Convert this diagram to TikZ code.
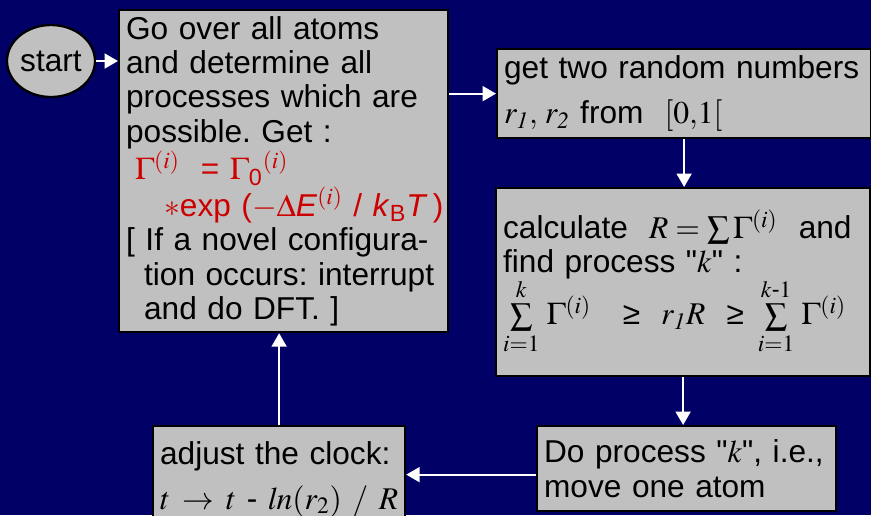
\documentclass[tikz,border=0pt]{standalone}
\usepackage{amsmath}
\usepackage{mathptmx}
\usepackage[no-math]{fontspec}
\setmainfont{Liberation Sans}[Ligatures=TeXOff]
\usetikzlibrary{shapes.geometric, arrows.meta, positioning, calc}
\definecolor{bgnavy}{RGB}{0,0,102}
\definecolor{boxgray}{RGB}{192,192,192}
\definecolor{ratered}{RGB}{204,0,0}
\frenchspacing

\begin{document}
\begin{tikzpicture}[x=0.02cm, y=-0.02cm,
  every node/.style={font=\fontsize{18}{19.6}\selectfont, align=left},
  stepbox/.style={rectangle, draw=black, line width=1.3pt, fill=boxgray, anchor=north west, inner xsep=0.14cm, inner ysep=0.1cm},
  startbox/.style={ellipse, draw=black, line width=1.3pt, fill=boxgray, inner sep=0pt, minimum width=1.76cm, minimum height=1.44cm},
  flow/.style={draw=white, line width=1.2pt, -{Triangle[length=0.27cm, width=0.3cm]}}]
\fill[bgnavy] (0,0) rectangle (871,515);
\clip (0,0) rectangle (871,515);

\node (start) [startbox] at (51,61) {start};
\node (gather) [stepbox, text width=6.3cm, minimum height=6.44cm] at (118,9) {Go over all atoms\\
and determine all\\
processes which are\\
possible. Get :\\
\hspace*{0.18cm}\textcolor{ratered}{$\Gamma^{(i)}$\ \ = $\Gamma_{\text{0}}{}^{(i)}$}\\
\hspace*{0.76cm}\mbox{\textcolor{ratered}{$\ast$exp ($-\Delta$\textit{E}$^{(i)}$ / \textit{k}\textsubscript{B}\textit{T}\,)}}\\
{[} If a novel configura-\\
\hspace*{0.36cm}tion occurs: interrupt\\
\hspace*{0.36cm}and do DFT. ]};
\node (rand) [stepbox, text width=7.2cm, minimum height=1.78cm] at (496,48) {get two random numbers\\[6pt]
$r_{\mathit{1}},\,r_{\mathit{2}}$ from\ \ $[0{,}1[$};
\node (calcs) [stepbox, text width=7.2cm, minimum height=3.76cm] at (495,187) {calculate\ \ $R=\sum\Gamma^{(i)}$\ \ and\\
find process "$k$" :\\[-2pt]
$\sum\limits_{i=1}^{k}\,\Gamma^{(i)}\ \ \ \text{≥}\ \ r_{\mathit{1}}R\ \ \text{≥}\ \sum\limits_{i=1}^{k\text{-}1}\,\Gamma^{(i)}$};
\node (doproc) [stepbox, text width=5.7cm, minimum height=1.7cm] at (536,425) {Do process "$k$", i.e.,\\
move one atom};
\node (clock) [stepbox, text width=4.76cm, minimum height=2.12cm] at (152,425) {adjust the clock:\\[6pt]
$t\;\rightarrow\;t$ - $\mathit{ln}(r_2)\ /\ R$};

\draw[flow] (start.east) -- (start.east -| gather.west);
\draw[flow] (rand.west -| gather.east) -- (rand.west);
\draw[flow] (rand.south) -- (rand.south |- calcs.north);
\draw[flow] (calcs.south) -- (calcs.south |- doproc.north);
\draw[flow] ([yshift=-0.12cm]doproc.west) -- ([yshift=-0.12cm]doproc.west -| clock.east);
\draw[flow] (clock.north) -- (clock.north |- gather.south);
\end{tikzpicture}
\end{document}
